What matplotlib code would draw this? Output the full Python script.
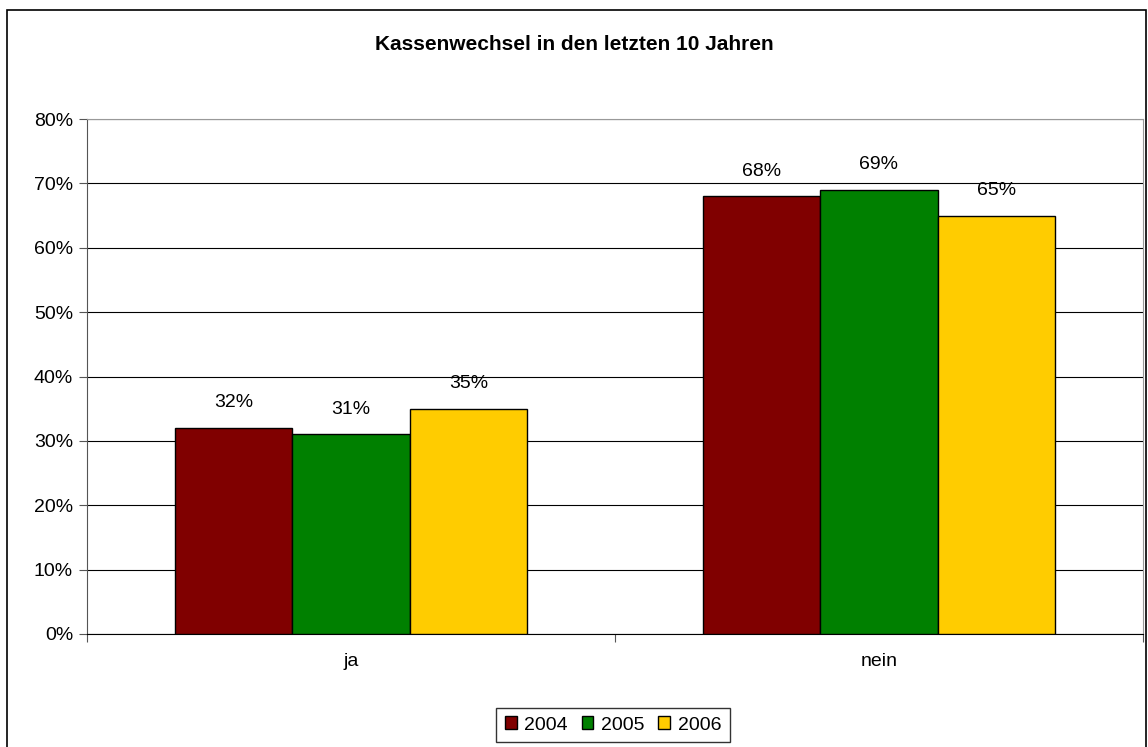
import matplotlib.pyplot as plt
import matplotlib.patches as patches
import numpy as np

plt.rcParams['font.family'] = ['Liberation Sans', 'DejaVu Sans']

categories = ['ja', 'nein']
years = ['2004', '2005', '2006']
values = {
    '2004': [32, 68],
    '2005': [31, 69],
    '2006': [35, 65],
}
colors = ['#800000', '#008000', '#FFCC00']

fig = plt.figure(figsize=(11.48, 7.47), dpi=100)
ax = fig.add_axes([87/1148, 1 - 634/747, (1143 - 87)/1148, (634 - 119)/747])

# frame around the whole figure
fig.patches.append(patches.Rectangle((7/1148, -0.01), (1146 - 7)/1148, 1 - 10/747 + 0.01,
                                     transform=fig.transFigure, fill=False,
                                     edgecolor='black', linewidth=1.2))

x = np.arange(len(categories))
w = 1 / 4.5
for i, yr in enumerate(years):
    pos = x + (i - 1) * w
    ax.bar(pos, values[yr], width=w, color=colors[i], edgecolor='black',
           linewidth=1.0, label=yr, zorder=3)
    for p, v in zip(pos, values[yr]):
        ax.text(p, v + 3.9, f'{v}%', ha='center', va='center', fontsize=14)

ax.set_xlim(-0.5, 1.5)
ax.set_ylim(0, 80)
ax.set_yticks(np.arange(0, 81, 10))
ax.set_yticklabels([f'{t}%' for t in range(0, 81, 10)], fontsize=14)
ax.yaxis.grid(True, color='black', linewidth=0.8, zorder=0)

ax.set_xticks([-0.5, 0.5, 1.5])
ax.set_xticklabels([])
ax.set_xticks(x, minor=True)
ax.set_xticklabels(categories, minor=True, fontsize=14)
ax.tick_params(axis='x', which='minor', length=0, pad=14)
ax.tick_params(axis='x', which='major', length=6, color='#555555')
ax.tick_params(axis='y', length=6, color='#555555', pad=4)

ax.spines['top'].set_color('#999999')
ax.spines['right'].set_color('#999999')
ax.spines['left'].set_color('#555555')
ax.spines['bottom'].set_color('black')

fig.text(0.5, 1 - 45/747, 'Kassenwechsel in den letzten 10 Jahren',
         ha='center', va='center', fontsize=15, fontweight='bold')

leg = fig.legend(loc='center', bbox_to_anchor=(613/1148, 1 - 725/747), ncol=3,
                 fontsize=14, frameon=True, fancybox=False, edgecolor='black',
                 handlelength=0.6, handleheight=0.6, handletextpad=0.4,
                 columnspacing=0.7, borderpad=0.45)
leg.get_frame().set_linewidth(1.0)

fig.savefig('out.png', dpi=100)
